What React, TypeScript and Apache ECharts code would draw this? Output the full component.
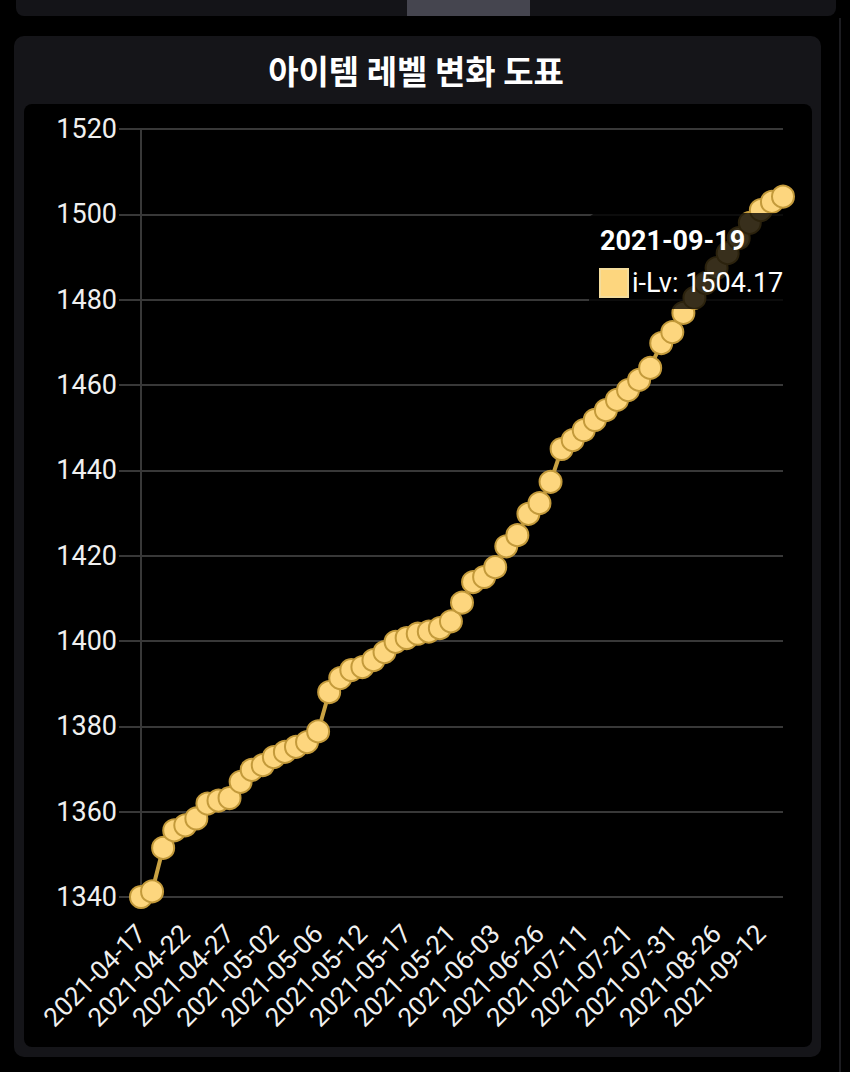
import React, { useEffect, useRef } from 'react';
import * as echarts from 'echarts';

const chartTitle = '아이템 레벨 변화 도표';
const seriesName = 'i-Lv';

const dates = [
  '2021-04-17', '2021-04-18', '2021-04-19', '2021-04-21', '2021-04-22', '2021-04-23', '2021-04-24', '2021-04-26',
  '2021-04-27', '2021-04-28', '2021-04-29', '2021-05-01', '2021-05-02', '2021-05-03', '2021-05-04', '2021-05-05',
  '2021-05-06', '2021-05-08', '2021-05-09', '2021-05-11', '2021-05-12', '2021-05-13', '2021-05-14', '2021-05-16',
  '2021-05-17', '2021-05-18', '2021-05-19', '2021-05-20', '2021-05-21', '2021-05-24', '2021-05-27', '2021-05-31',
  '2021-06-03', '2021-06-09', '2021-06-14', '2021-06-20', '2021-06-26', '2021-06-30', '2021-07-03', '2021-07-07',
  '2021-07-11', '2021-07-13', '2021-07-16', '2021-07-18', '2021-07-21', '2021-07-23', '2021-07-26', '2021-07-28',
  '2021-07-31', '2021-08-06', '2021-08-13', '2021-08-19', '2021-08-26', '2021-08-30', '2021-09-03', '2021-09-08',
  '2021-09-12', '2021-09-15', '2021-09-19',
];

const itemLevels = [
  1340.0, 1341.3, 1351.5, 1355.6, 1356.8, 1358.4, 1361.9, 1362.6, 1363.2, 1367.0,
  1369.8, 1370.9, 1372.8, 1374.0, 1375.2, 1376.3, 1378.8, 1388.0, 1391.3, 1393.2,
  1393.9, 1395.5, 1397.4, 1399.8, 1400.7, 1401.7, 1402.2, 1403.0, 1404.6, 1409.0,
  1413.8, 1415.0, 1417.3, 1422.2, 1424.8, 1429.8, 1432.3, 1437.3, 1445.0, 1447.1,
  1449.4, 1451.8, 1454.1, 1456.5, 1458.8, 1461.2, 1464.0, 1469.8, 1472.4, 1476.9,
  1480.4, 1483.9, 1487.4, 1490.9, 1494.4, 1498.0, 1501.0, 1502.9, 1504.17,
];

const yMin = 1340;
const yMax = 1520;
const yStep = 20;
const xLabelInterval = 3;

export default function App() {
  const ref = useRef<HTMLDivElement>(null);

  useEffect(() => {
    document.body.style.margin = '0';
    document.body.style.background = '#000';
    const chart = echarts.init(ref.current as HTMLDivElement, null, { renderer: 'svg' });
    const lastIdx = dates.length - 1;
    const gridColor = '#383838';
    const option = {
      animation: false,
      backgroundColor: '#000',
      grid: { left: 141, right: 67, top: 129, bottom: 175, containLabel: false },
      xAxis: {
        type: 'category',
        data: dates,
        boundaryGap: false,
        axisLine: { show: false },
        axisTick: { show: false },
        splitLine: { show: false },
        axisLabel: {
          interval: xLabelInterval,
          rotate: 45,
          margin: 32,
          color: '#f0f0f0',
          fontSize: 26,
          fontFamily: 'Roboto',
        },
      },
      yAxis: {
        type: 'value',
        min: yMin,
        max: yMax,
        interval: yStep,
        axisLine: { show: true, lineStyle: { color: gridColor, width: 2 } },
        axisTick: { show: true, length: 22, lineStyle: { color: gridColor, width: 2 } },
        splitLine: { show: true, lineStyle: { color: gridColor, width: 2 } },
        axisLabel: {
          margin: 24,
          color: '#f0f0f0',
          fontSize: 27,
          fontFamily: 'Roboto',
          formatter: (v: number) => String(v),
        },
      },
      series: [
        {
          name: seriesName,
          type: 'line',
          data: itemLevels,
          symbol: 'circle',
          symbolSize: 22,
          showAllSymbol: true,
          itemStyle: { color: '#fdd67e', borderColor: '#c39a3b', borderWidth: 2 },
          lineStyle: { color: '#c9a243', width: 4 },
          z: 3,
        },
      ],
      graphic: [
        { type: 'rect', z: -10, silent: true, shape: { x: 0, y: 0, width: 850, height: 1072 }, style: { fill: '#000' } },
        { type: 'rect', z: -9, silent: true, shape: { x: 16, y: -10, width: 820, height: 26, r: 8 }, style: { fill: '#141418' } },
        { type: 'rect', z: -8, silent: true, shape: { x: 407, y: 0, width: 123, height: 16 }, style: { fill: '#45454f' } },
        { type: 'rect', z: -9, silent: true, shape: { x: 839, y: 18, width: 2, height: 1054 }, style: { fill: '#1c1c20' } },
        { type: 'rect', z: -9, silent: true, shape: { x: 14, y: 36, width: 807, height: 1021, r: 10 }, style: { fill: '#151519' } },
        { type: 'rect', z: -8, silent: true, shape: { x: 24, y: 104, width: 788, height: 943, r: 8 }, style: { fill: '#000' } },
        {
          type: 'text', z: 10, x: 416, y: 70,
          style: {
            text: chartTitle, fill: '#ffffff', fontSize: 33, fontWeight: 'bold',
            fontFamily: '"Noto Sans CJK KR", sans-serif', align: 'center', verticalAlign: 'middle',
          },
        },
        { type: 'rect', z: 100, silent: true, shape: { x: 589, y: 213, width: 210, height: 96, r: 8 }, style: { fill: 'rgba(0,0,0,0.78)' } },
        {
          type: 'text', z: 101, x: 600, y: 241,
          style: {
            text: dates[lastIdx], fill: '#ffffff', fontSize: 27, fontWeight: 'bold',
            fontFamily: 'Roboto', align: 'left', verticalAlign: 'middle',
          },
        },
        { type: 'rect', z: 101, shape: { x: 600, y: 269, width: 28, height: 28 }, style: { fill: '#fdd67e', stroke: '#f3dc9c', lineWidth: 2 } },
        {
          type: 'text', z: 101, x: 632, y: 283,
          style: {
            text: `${seriesName}: ${itemLevels[lastIdx].toFixed(2)}`, fill: '#ffffff', fontSize: 27,
            fontFamily: 'Roboto', align: 'left', verticalAlign: 'middle',
          },
        },
      ],
    };
    chart.setOption(option as any);
    return () => chart.dispose();
  }, []);

  return <div ref={ref} style={{ width: 850, height: 1072 }} />;
}
